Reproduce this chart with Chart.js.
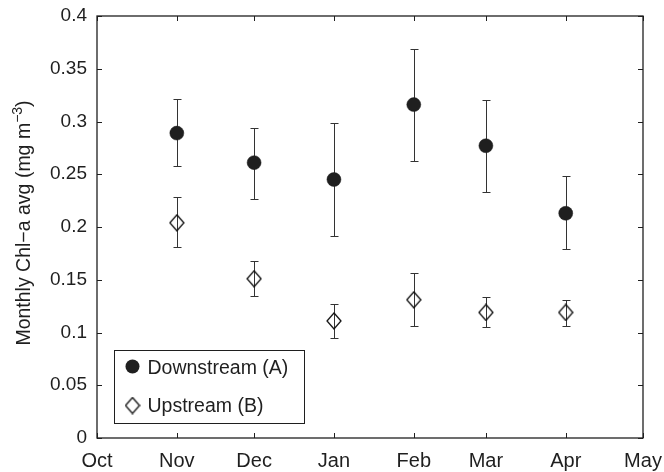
<!DOCTYPE html>
<html>
<head>
<meta charset="utf-8">
<script src="https://cdn.jsdelivr.net/npm/chart.js@4.4.1/dist/chart.umd.min.js"></script>
<style>
  html, body { margin: 0; padding: 0; background: #fff; }
  #wrap { width: 664px; height: 472px; position: relative; }
</style>
</head>
<body>
<div id="wrap"><canvas id="chl"></canvas></div>
<script>
// x axis is days since 1 Oct, ticks at the start of each month
const monthDays   = [0, 31, 61, 92, 123, 151, 182, 212];
const monthLabels = ['Oct', 'Nov', 'Dec', 'Jan', 'Feb', 'Mar', 'Apr', 'May'];
const yTicks      = [0, 0.05, 0.1, 0.15, 0.2, 0.25, 0.3, 0.35, 0.4];

const sampleDays = [31, 61, 92, 123, 151, 182];

// Downstream (A)
const downMean = [0.289, 0.261, 0.245, 0.316, 0.277, 0.213];
const downLow  = [0.258, 0.227, 0.191, 0.263, 0.233, 0.179];
const downHigh = [0.321, 0.294, 0.299, 0.369, 0.320, 0.248];

// Upstream (B)
const upMean = [0.204, 0.151, 0.111, 0.131, 0.119, 0.119];
const upLow  = [0.181, 0.135, 0.095, 0.106, 0.105, 0.106];
const upHigh = [0.228, 0.168, 0.127, 0.156, 0.134, 0.131];

const FONT = "'Liberation Sans', Arial, Helvetica, sans-serif";
const INK  = '#1f1f1f';

function makeDiamond(w, h) {
  const c = document.createElement('canvas');
  c.width = w + 2; c.height = h + 2;
  const g = c.getContext('2d');
  g.beginPath();
  g.moveTo(c.width / 2, 1);
  g.lineTo(c.width - 1, c.height / 2);
  g.lineTo(c.width / 2, c.height - 1);
  g.lineTo(1, c.height / 2);
  g.closePath();
  g.strokeStyle = '#111';
  g.lineWidth = 1.3;
  g.stroke();
  return c;
}
const diamond = makeDiamond(14, 16);

const errorBars = {
  id: 'errorBars',
  beforeDatasetsDraw(chart) {
    const { ctx, scales: { x, y } } = chart;
    ctx.save();
    ctx.strokeStyle = '#333';
    ctx.lineWidth = 1;
    chart.data.datasets.forEach(ds => {
      ds.data.forEach((p, i) => {
        const px = Math.round(x.getPixelForValue(p.x)) + 0.5;
        const y1 = Math.round(y.getPixelForValue(ds.errLow[i])) + 0.5;
        const y2 = Math.round(y.getPixelForValue(ds.errHigh[i])) + 0.5;
        ctx.beginPath();
        ctx.moveTo(px, y1); ctx.lineTo(px, y2);
        ctx.moveTo(px - 4, y1); ctx.lineTo(px + 4, y1);
        ctx.moveTo(px - 4, y2); ctx.lineTo(px + 4, y2);
        ctx.stroke();
      });
    });
    ctx.restore();
  }
};

// matlab style box with inward ticks on all four sides
const frame = {
  id: 'frame',
  afterDatasetsDraw(chart) {
    const { ctx, chartArea: a, scales: { x, y } } = chart;
    ctx.save();
    ctx.strokeStyle = INK;
    ctx.lineWidth = 1.3;
    ctx.strokeRect(a.left, a.top, a.right - a.left, a.bottom - a.top);
    ctx.lineWidth = 1;
    ctx.beginPath();
    x.ticks.forEach(t => {
      const px = Math.round(x.getPixelForValue(t.value)) + 0.5;
      ctx.moveTo(px, a.bottom); ctx.lineTo(px, a.bottom - 5);
      ctx.moveTo(px, a.top); ctx.lineTo(px, a.top + 5);
    });
    y.ticks.forEach(t => {
      const py = Math.round(y.getPixelForValue(t.value)) + 0.5;
      ctx.moveTo(a.left, py); ctx.lineTo(a.left + 5, py);
      ctx.moveTo(a.right, py); ctx.lineTo(a.right - 5, py);
    });
    ctx.stroke();
    ctx.restore();
  },
  afterDraw(chart) {
    const { ctx } = chart;
    const ds = chart.data.datasets;

    // legend box, lower left inside the axes
    ctx.save();
    ctx.fillStyle = '#fff';
    ctx.fillRect(114, 350, 191, 74);
    ctx.strokeStyle = INK;
    ctx.lineWidth = 1;
    ctx.strokeRect(114.5, 350.5, 190, 73);

    ctx.fillStyle = INK;
    ctx.beginPath();
    ctx.arc(132.5, 366.5, 7, 0, Math.PI * 2);
    ctx.fill();
    ctx.drawImage(diamond, 132.5 - diamond.width / 2, 405.5 - diamond.height / 2);

    ctx.font = '19.5px ' + FONT;
    ctx.textAlign = 'left';
    ctx.textBaseline = 'alphabetic';
    ctx.fillText(ds[0].label, 147.5, 373.5);
    ctx.fillText(ds[1].label, 147.5, 412);

    // y title with superscript
    ctx.translate(29.5, 223);
    ctx.rotate(-Math.PI / 2);
    const main = 'Monthly Chl\u2212a avg (mg m';
    const sup = '\u22123';
    const tail = ')';
    const big = '19.5px ' + FONT, small = '14px ' + FONT;
    ctx.font = big;
    const w1 = ctx.measureText(main).width, w3 = ctx.measureText(tail).width;
    ctx.font = small;
    const w2 = ctx.measureText(sup).width;
    let cx = -(w1 + w2 + w3) / 2;
    ctx.font = big;
    ctx.fillText(main, cx, 0); cx += w1;
    ctx.font = small;
    ctx.fillText(sup, cx, -8); cx += w2;
    ctx.font = big;
    ctx.fillText(tail, cx, 0);
    ctx.restore();
  }
};

new Chart(document.getElementById('chl'), {
  type: 'scatter',
  data: {
    datasets: [
      {
        label: 'Downstream (A)',
        data: sampleDays.map((d, i) => ({ x: d, y: downMean[i] })),
        errLow: downLow, errHigh: downHigh,
        pointStyle: 'circle', pointRadius: 7, pointHoverRadius: 7,
        backgroundColor: INK, borderColor: INK, borderWidth: 0.5
      },
      {
        label: 'Upstream (B)',
        data: sampleDays.map((d, i) => ({ x: d, y: upMean[i] })),
        errLow: upLow, errHigh: upHigh,
        pointStyle: diamond, pointRadius: 8, pointHoverRadius: 8,
        backgroundColor: 'rgba(0,0,0,0)', borderColor: INK
      }
    ]
  },
  options: {
    responsive: true,
    maintainAspectRatio: false,
    animation: false,
    layout: { padding: { top: 16, right: 21, left: 0, bottom: 0 } },
    plugins: { legend: { display: false }, tooltip: { enabled: false } },
    scales: {
      x: {
        type: 'linear', min: monthDays[0], max: monthDays[monthDays.length - 1],
        afterBuildTicks: s => { s.ticks = monthDays.map(v => ({ value: v })); },
        afterFit: s => { s.height = 34; s.paddingLeft = 0; s.paddingRight = 0; },
        ticks: {
          callback: v => monthLabels[monthDays.indexOf(v)],
          font: { family: FONT, size: 20 }, color: INK,
          padding: 11, maxRotation: 0, autoSkip: false
        },
        grid: { display: false, drawTicks: false },
        border: { display: false }
      },
      y: {
        min: 0, max: 0.4,
        afterBuildTicks: s => { s.ticks = yTicks.map(v => ({ value: v })); },
        afterFit: s => { s.width = 97; s.paddingTop = 0; s.paddingBottom = 0; },
        ticks: {
          callback: v => String(+v.toFixed(2)),
          font: { family: FONT, size: 19 }, color: INK,
          padding: 10, autoSkip: false
        },
        grid: { display: false, drawTicks: false },
        border: { display: false }
      }
    }
  },
  plugins: [errorBars, frame]
});
</script>
</body>
</html>
